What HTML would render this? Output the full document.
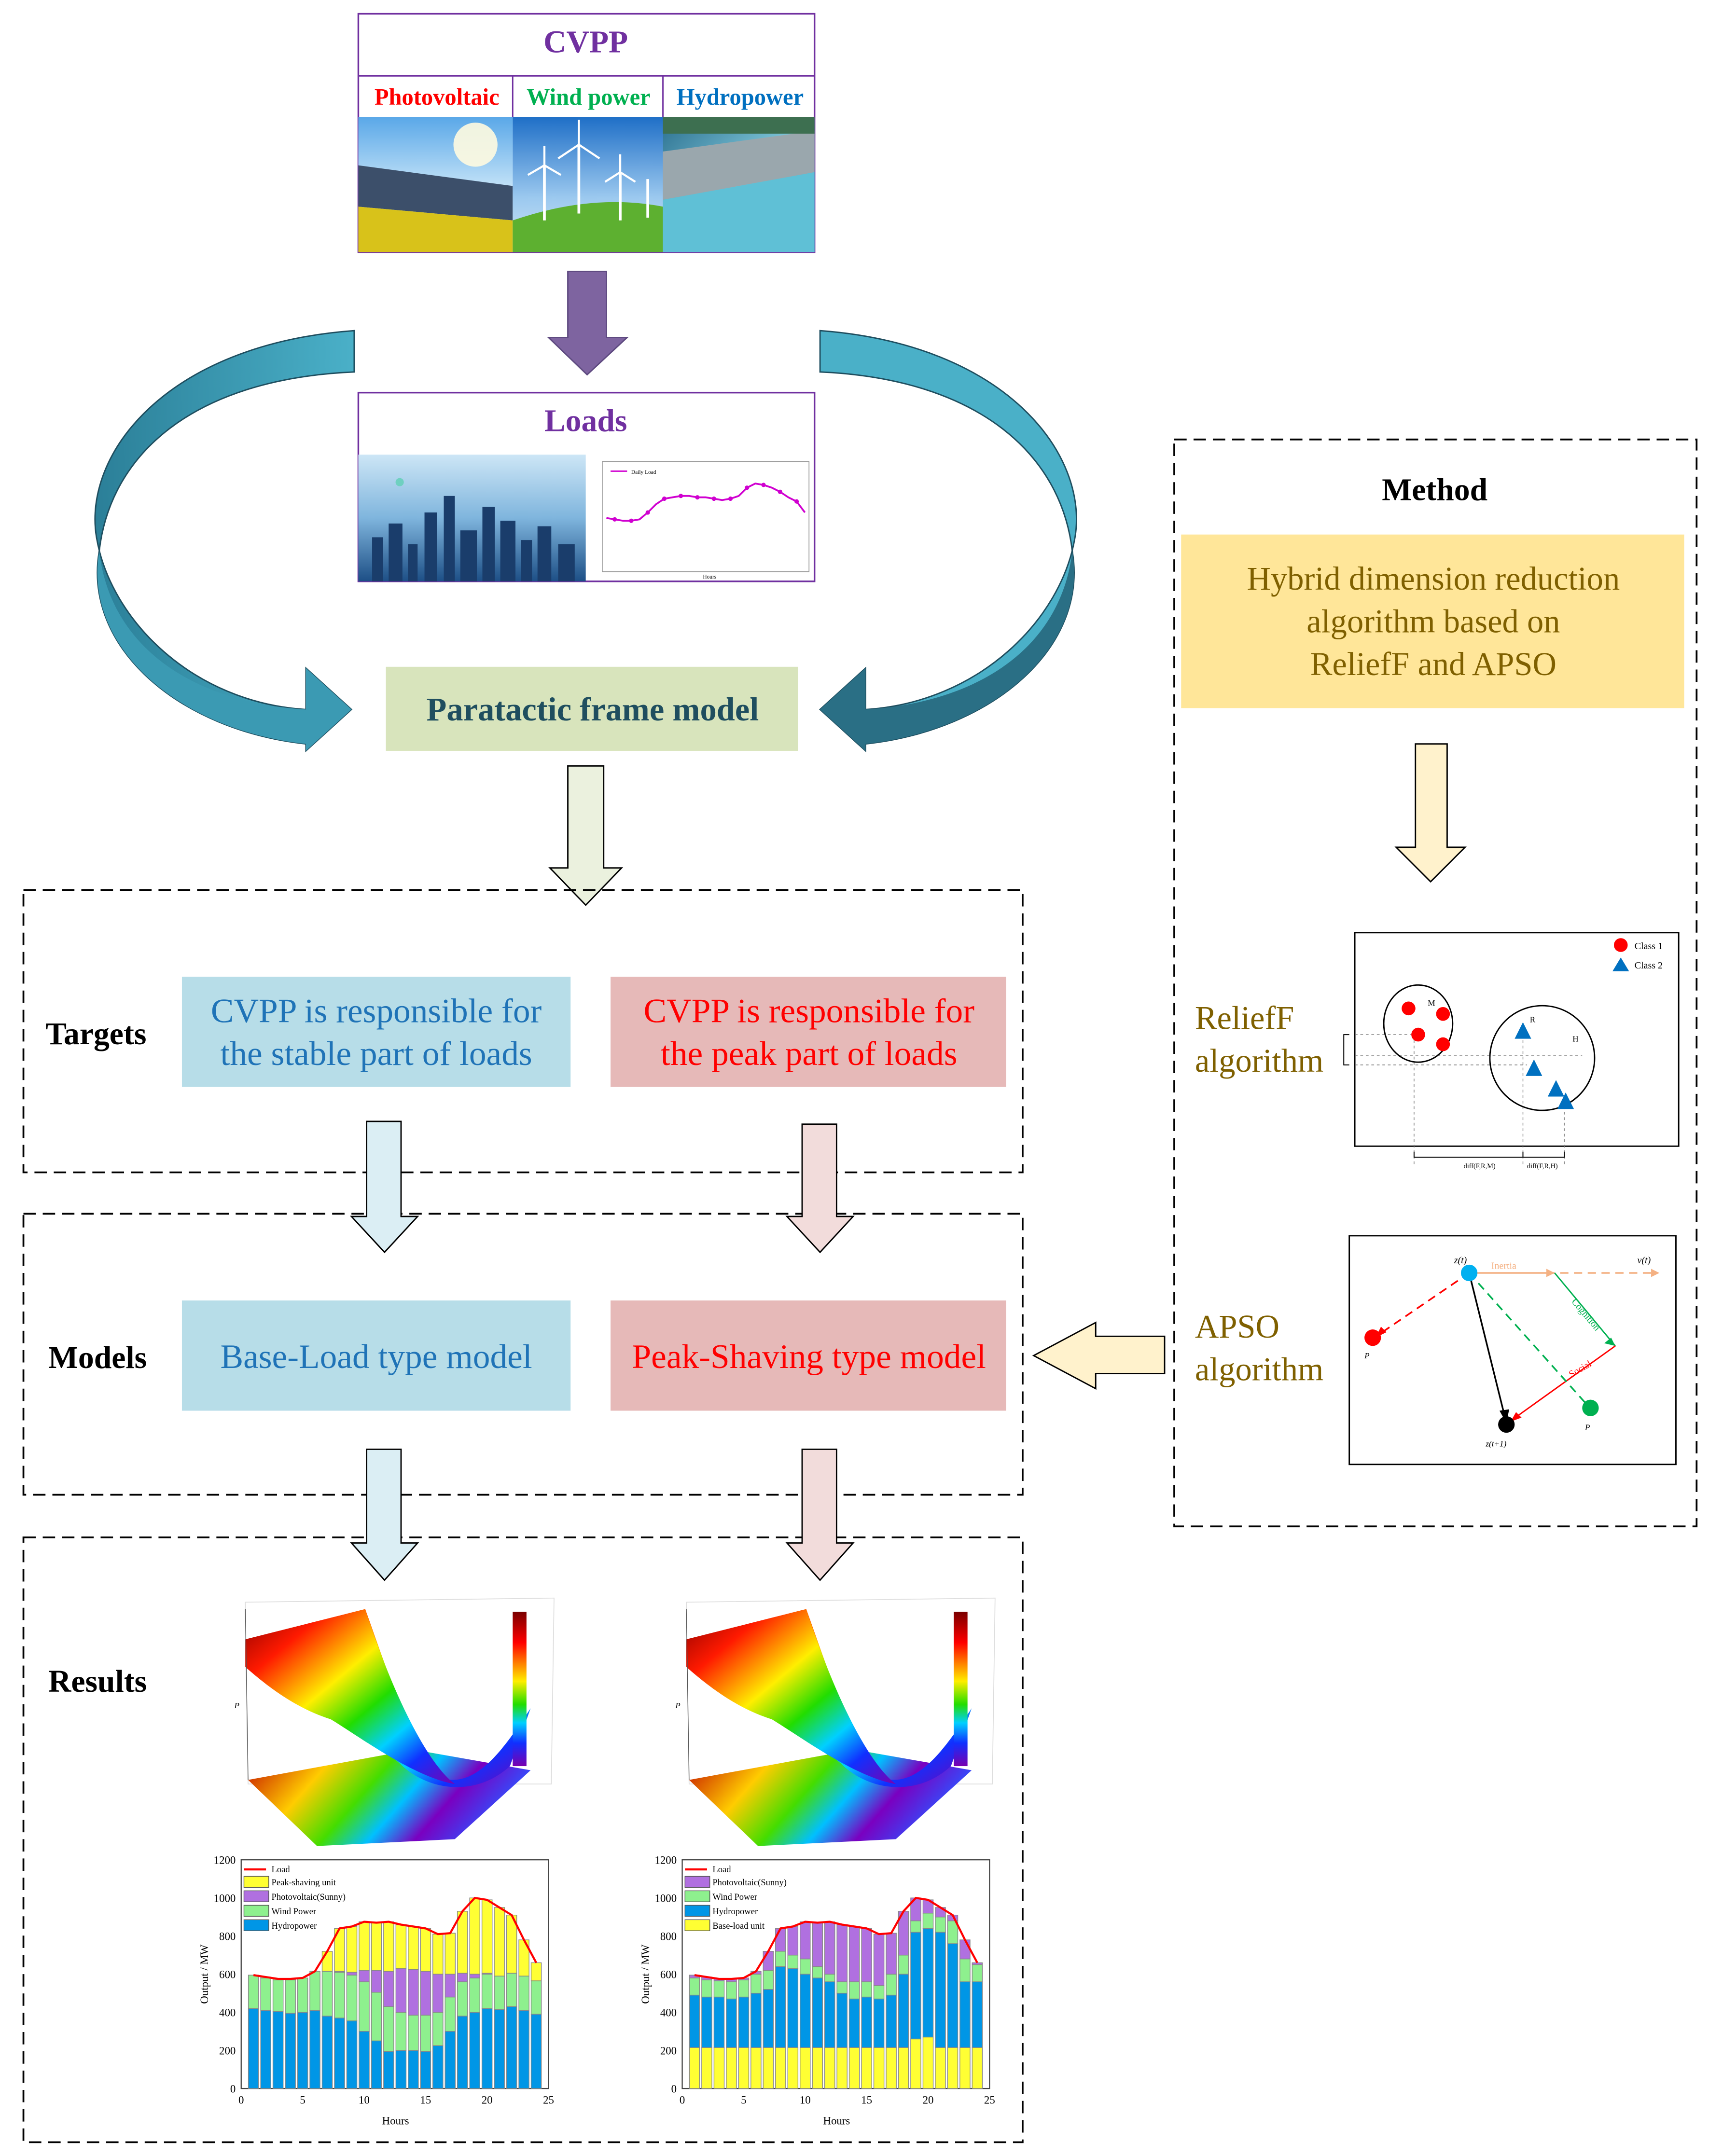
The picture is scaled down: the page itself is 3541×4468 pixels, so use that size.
<!DOCTYPE html>
<html><head><meta charset="utf-8"><style>
html,body{margin:0;padding:0;background:#fff}
svg{display:block}
text{font-family:"Liberation Serif",serif}
</style></head><body>
<svg id="s" width="3541" height="4468" viewBox="0 0 1240 1565" preserveAspectRatio="none" xmlns="http://www.w3.org/2000/svg">
<defs>
<linearGradient id="sky" x1="0" y1="0" x2="0" y2="1"><stop offset="0" stop-color="#5aa8e8"/><stop offset="0.5" stop-color="#bfe0f7"/><stop offset="1" stop-color="#e8f4fb"/></linearGradient>
<linearGradient id="sky2" x1="0" y1="0" x2="0" y2="1"><stop offset="0" stop-color="#1f6fc7"/><stop offset="0.6" stop-color="#9cc9ef"/><stop offset="1" stop-color="#cfe6f5"/></linearGradient>
<linearGradient id="hyd" x1="0" y1="0" x2="1" y2="1"><stop offset="0" stop-color="#2a6f8f"/><stop offset="0.5" stop-color="#7fc6d9"/><stop offset="1" stop-color="#1b8fb0"/></linearGradient>
<linearGradient id="city" x1="0" y1="0" x2="0" y2="1"><stop offset="0" stop-color="#cde6f6"/><stop offset="0.5" stop-color="#7fb5dd"/><stop offset="1" stop-color="#1d4f86"/></linearGradient>
<linearGradient id="arrL" x1="0" y1="0" x2="1" y2="0"><stop offset="0" stop-color="#2b7f98"/><stop offset="1" stop-color="#4ab0c8"/></linearGradient>
<linearGradient id="rb" x1="0" y1="0" x2="1" y2="1"><stop offset="0" stop-color="#8b0000"/><stop offset="0.2" stop-color="#ff1a00"/><stop offset="0.42" stop-color="#ffee00"/><stop offset="0.58" stop-color="#22dd00"/><stop offset="0.72" stop-color="#00d0ff"/><stop offset="0.84" stop-color="#1030ff"/><stop offset="1" stop-color="#7a00b0"/></linearGradient>
<linearGradient id="cb" x1="0" y1="0" x2="0" y2="1"><stop offset="0" stop-color="#7a0000"/><stop offset="0.2" stop-color="#ff0000"/><stop offset="0.45" stop-color="#ffee00"/><stop offset="0.6" stop-color="#22dd00"/><stop offset="0.72" stop-color="#00d0ff"/><stop offset="0.85" stop-color="#1030ff"/><stop offset="1" stop-color="#7a00b0"/></linearGradient>
<linearGradient id="base" x1="0" y1="0" x2="1" y2="0.3"><stop offset="0" stop-color="#c00000"/><stop offset="0.3" stop-color="#ffcc00"/><stop offset="0.5" stop-color="#44dd00"/><stop offset="0.65" stop-color="#00c0ff"/><stop offset="0.8" stop-color="#7a00c0"/><stop offset="1" stop-color="#3050ff"/></linearGradient>
</defs>

<!-- CVPP box -->
<rect x="260" y="10" width="331" height="173" fill="#fff" stroke="#7030a0" stroke-width="1.2"/>
<line x1="260" y1="55" x2="591" y2="55" stroke="#7030a0" stroke-width="1.2"/>
<text x="425" y="38" font-size="23" font-weight="bold" fill="#7030a0" text-anchor="middle">CVPP</text>
<text x="317" y="76" font-size="17" font-weight="bold" fill="#ff0000" text-anchor="middle">Photovoltaic</text>
<text x="427" y="76" font-size="17" font-weight="bold" fill="#00b050" text-anchor="middle">Wind power</text>
<text x="537" y="76" font-size="17" font-weight="bold" fill="#0070c0" text-anchor="middle">Hydropower</text>
<line x1="372" y1="55" x2="372" y2="85" stroke="#7030a0"/><line x1="481" y1="55" x2="481" y2="85" stroke="#7030a0"/>
<!-- PV image -->
<rect x="260" y="85" width="112" height="98" fill="url(#sky)"/>
<circle cx="345" cy="105" r="16" fill="#fffbe0" opacity="0.9"/>
<polygon points="260,120 372,135 372,160 260,150" fill="#3c4f6a"/>
<polygon points="260,150 372,160 372,183 260,183" fill="#d8c21a"/>
<!-- wind -->
<rect x="372" y="85" width="109" height="98" fill="url(#sky2)"/>
<path d="M372,160 Q430,140 481,150 L481,183 L372,183Z" fill="#5db030"/>
<g stroke="#fff" stroke-width="2"><line x1="395" y1="160" x2="395" y2="120"/><line x1="420" y1="155" x2="420" y2="105"/><line x1="450" y1="160" x2="450" y2="125"/><line x1="470" y1="158" x2="470" y2="130"/></g>
<g stroke="#fff" stroke-width="1.5"><path d="M420,105 l0,-18 M420,105 l15,10 M420,105 l-15,10"/><path d="M395,120 l0,-14 M395,120 l12,7 M395,120 l-12,7"/><path d="M450,125 l0,-13 M450,125 l11,7 M450,125 l-11,7"/></g>
<!-- hydro -->
<rect x="481" y="85" width="110" height="98" fill="url(#hyd)"/>
<polygon points="481,110 591,95 591,125 481,145" fill="#9aa7ad"/>
<polygon points="481,145 591,125 591,183 481,183" fill="#5fc0d6"/>
<rect x="481" y="85" width="110" height="12" fill="#3d6f50"/>

<!-- purple arrow -->
<polygon points="412,197 440,197 440,245 455,245 426,272 398,245 412,245" fill="#7e64a0" stroke="#5e4a80"/>

<!-- Loads box -->
<rect x="260" y="285" width="331" height="137" fill="#fff" stroke="#7030a0" stroke-width="1.2"/>
<text x="425" y="313" font-size="23" font-weight="bold" fill="#7030a0" text-anchor="middle">Loads</text>
<rect x="260" y="330" width="165" height="92" fill="url(#city)"/>
<g fill="#1a3d6b">
<rect x="270" y="390" width="8" height="32"/><rect x="282" y="380" width="10" height="42"/><rect x="296" y="395" width="7" height="27"/><rect x="308" y="372" width="9" height="50"/><rect x="322" y="360" width="8" height="62"/><rect x="334" y="385" width="12" height="37"/><rect x="350" y="368" width="9" height="54"/><rect x="363" y="378" width="11" height="44"/><rect x="378" y="392" width="8" height="30"/><rect x="390" y="382" width="10" height="40"/><rect x="405" y="395" width="12" height="27"/>
</g>
<circle cx="290" cy="350" r="3" fill="#6fd0c0"/>
<rect x="437" y="335" width="150" height="80" fill="#fff" stroke="#999" stroke-width="0.6"/>
<polyline points="440,376 446,377 452,378 458,378 464,377 470,372 476,366 482,362 488,361 494,360 500,360 506,361 512,361 518,362 524,363 530,362 536,360 542,354 548,351 554,352 560,354 566,357 572,361 578,364 584,372" fill="none" stroke="#d000d0" stroke-width="1.3"/>
<g fill="#d000d0"><circle cx="446" cy="377" r="1.6"/><circle cx="458" cy="378" r="1.6"/><circle cx="470" cy="372" r="1.6"/><circle cx="482" cy="362" r="1.6"/><circle cx="494" cy="360" r="1.6"/><circle cx="506" cy="361" r="1.6"/><circle cx="518" cy="362" r="1.6"/><circle cx="530" cy="362" r="1.6"/><circle cx="542" cy="354" r="1.6"/><circle cx="554" cy="352" r="1.6"/><circle cx="566" cy="357" r="1.6"/><circle cx="578" cy="364" r="1.6"/></g>
<line x1="443" y1="342" x2="455" y2="342" stroke="#d000d0"/><text x="458" y="344" font-size="4">Daily Load</text>
<text x="510" y="420" font-size="4">Hours</text>

<!-- curved arrows -->
<path d="M257,240 C120,250 60,330 70,390 C80,450 140,510 222,515 L222,485 L255,515 L222,545 L222,540 C130,530 60,470 72,400 C80,330 140,275 257,270 Z" fill="url(#arrL)" stroke="#1f4e5f" stroke-width="1"/>
<path d="M595,240 C730,250 790,330 780,390 C770,450 710,510 628,515 L628,485 L595,515 L628,545 L628,540 C720,530 790,470 778,400 C770,330 710,275 595,270 Z" fill="#4ab0c8" stroke="#1f4e5f" stroke-width="1"/>
<path d="M628,485 L595,515 L628,545 L628,540 C720,530 790,470 778,400 C770,470 710,510 628,515Z" fill="#2a6f85"/>
<path d="M222,485 L255,515 L222,545 L222,540 C130,530 60,470 72,400 C80,470 140,510 222,515Z" fill="#3b9ab3"/>

<!-- Paratactic -->
<rect x="280" y="484" width="299" height="61" fill="#d8e4bc"/>
<text x="430" y="523" font-size="24" font-weight="bold" fill="#1f4e5f" text-anchor="middle">Paratactic frame model</text>
<polygon points="412,556 438,556 438,630 451,630 425,657 399,630 412,630" fill="#ebf1de" stroke="#000"/>

<!-- dashed boxes -->
<g fill="none" stroke="#000" stroke-width="1.3" stroke-dasharray="9,5">
<rect x="17" y="646" width="725" height="205"/>
<rect x="17" y="881" width="725" height="204"/>
<rect x="17" y="1116" width="725" height="439"/>
<rect x="852" y="319" width="379" height="789"/>
</g>

<!-- Targets -->
<text x="33" y="758" font-size="23" font-weight="bold">Targets</text>
<rect x="132" y="709" width="282" height="80" fill="#b7dde8"/>
<text x="273" y="742" font-size="25" fill="#1f73b7" text-anchor="middle">CVPP is responsible for</text>
<text x="273" y="773" font-size="25" fill="#1f73b7" text-anchor="middle">the stable part of loads</text>
<rect x="443" y="709" width="287" height="80" fill="#e6b9b8"/>
<text x="587" y="742" font-size="25" fill="#ff0000" text-anchor="middle">CVPP is responsible for</text>
<text x="587" y="773" font-size="25" fill="#ff0000" text-anchor="middle">the peak part of loads</text>
<polygon points="266,814 291,814 291,883 303,883 279,909 255,883 266,883" fill="#dbeef4" stroke="#000"/>
<polygon points="582,816 607,816 607,883 619,883 595,909 571,883 582,883" fill="#f2dcdb" stroke="#000"/>

<!-- Models -->
<text x="35" y="993" font-size="23" font-weight="bold">Models</text>
<rect x="132" y="944" width="282" height="80" fill="#b7dde8"/>
<text x="273" y="993" font-size="25" fill="#1f73b7" text-anchor="middle">Base-Load type model</text>
<rect x="443" y="944" width="287" height="80" fill="#e6b9b8"/>
<text x="587" y="993" font-size="25" fill="#ff0000" text-anchor="middle">Peak-Shaving type model</text>
<polygon points="266,1052 291,1052 291,1120 303,1120 279,1147 255,1120 266,1120" fill="#dbeef4" stroke="#000"/>
<polygon points="582,1052 607,1052 607,1120 619,1120 595,1147 571,1120 582,1120" fill="#f2dcdb" stroke="#000"/>

<!-- Results -->
<text x="35" y="1228" font-size="23" font-weight="bold">Results</text>
<g id="p3d1">
<path d="M178,1163 L402,1160 L400,1295 L180,1295Z" fill="none" stroke="#ddd" stroke-width="0.6"/>
<polygon points="180,1292 300,1270 385,1285 330,1335 230,1340" fill="url(#base)"/>
<path d="M178,1190 L265,1168 C280,1210 300,1270 318,1290 C345,1300 365,1270 385,1240 L370,1282 C345,1305 310,1300 290,1280 C260,1255 230,1240 178,1210Z" fill="url(#rb)"/>
<path d="M178,1190 L265,1168 C285,1230 310,1280 330,1295 C300,1290 260,1260 240,1248 C215,1240 195,1225 178,1210Z" fill="url(#rb)"/>
<line x1="178" y1="1168" x2="180" y2="1292" stroke="#555" stroke-width="0.5"/>
<text x="170" y="1240" font-size="6" font-style="italic">P</text>
<rect x="372" y="1170" width="10" height="112" fill="url(#cb)"/>
</g>
<use href="#p3d1" transform="translate(320,0)"/>

<g id="bars1" font-size="8"></g>
<g id="bars2" font-size="8"></g>

<!-- Method -->
<text x="1041" y="363" font-size="23" font-weight="bold" text-anchor="middle">Method</text>
<rect x="857" y="388" width="365" height="126" fill="#ffe699"/>
<text x="1040" y="428" font-size="24" fill="#7f6000" text-anchor="middle">Hybrid dimension reduction</text>
<text x="1040" y="459" font-size="24" fill="#7f6000" text-anchor="middle">algorithm based on</text>
<text x="1040" y="490" font-size="24" fill="#7f6000" text-anchor="middle">ReliefF and APSO</text>
<polygon points="1027,540 1050,540 1050,615 1063,615 1038,640 1013,615 1027,615" fill="#fff2cc" stroke="#000"/>
<text x="867" y="747" font-size="24" fill="#7f6000">ReliefF</text>
<text x="867" y="778" font-size="24" fill="#7f6000">algorithm</text>
<text x="867" y="971" font-size="24" fill="#7f6000">APSO</text>
<text x="867" y="1002" font-size="24" fill="#7f6000">algorithm</text>

<!-- ReliefF chart -->
<rect x="983" y="677" width="235" height="155" fill="#fff" stroke="#000" stroke-width="1"/>
<g stroke="#777" stroke-width="0.5" stroke-dasharray="2,2" fill="none">
<line x1="983" y1="751" x2="1026" y2="751"/><line x1="983" y1="766" x2="1148" y2="766"/><line x1="983" y1="773" x2="1108" y2="773"/>
<line x1="1026" y1="751" x2="1026" y2="846"/><line x1="1105" y1="751" x2="1105" y2="846"/><line x1="1135" y1="799" x2="1135" y2="846"/>
</g>
<ellipse cx="1029" cy="743" rx="25" ry="28" fill="none" stroke="#000"/>
<ellipse cx="1119" cy="768" rx="38" ry="38" fill="none" stroke="#000"/>
<g fill="#f00"><circle cx="1022" cy="732" r="5"/><circle cx="1047" cy="736" r="5"/><circle cx="1029" cy="751" r="5"/><circle cx="1047" cy="758" r="5"/><circle cx="1176" cy="686" r="5"/></g>
<g fill="#0070c0"><polygon points="1105,742 1111,754 1099,754"/><polygon points="1136,793 1142,805 1130,805"/><polygon points="1113,769 1119,781 1107,781"/><polygon points="1129,784 1135,796 1123,796"/><polygon points="1176,695 1182,705 1170,705"/></g>
<text x="1186" y="689" font-size="7">Class 1</text><text x="1186" y="703" font-size="7">Class 2</text>
<text x="1036" y="730" font-size="6">M</text><text x="1110" y="742" font-size="6">R</text><text x="1141" y="756" font-size="6">H</text>
<path d="M1026,836 L1026,840 L1135,840 L1135,836 M1105,836 L1105,840" fill="none" stroke="#000" stroke-width="0.7"/>
<path d="M979,751 L975,751 L975,773 L979,773" fill="none" stroke="#000" stroke-width="0.7"/>
<text x="1062" y="848" font-size="5">diff(F,R,M)</text><text x="1108" y="848" font-size="5">diff(F,R,H)</text>

<!-- APSO chart -->
<rect x="979" y="897" width="237" height="166" fill="#fff" stroke="#000" stroke-width="1"/>
<line x1="1066" y1="924" x2="1122" y2="924" stroke="#f4b183" stroke-width="1.2"/>
<line x1="1122" y1="924" x2="1200" y2="924" stroke="#f4b183" stroke-width="1.2" stroke-dasharray="6,4"/>
<polygon points="1122,921 1128,924 1122,927" fill="#f4b183"/><polygon points="1198,921 1204,924 1198,927" fill="#f4b183"/>
<line x1="1128" y1="924" x2="1172" y2="977" stroke="#00b050" stroke-width="1"/><polygon points="1172,977 1164,975 1169,971" fill="#00b050"/>
<line x1="1172" y1="977" x2="1098" y2="1030" stroke="#ff0000" stroke-width="1"/><polygon points="1096,1032 1100,1025 1104,1029" fill="#f00"/>
<line x1="1066" y1="924" x2="1000" y2="969" stroke="#ff0000" stroke-width="1.2" stroke-dasharray="6,4"/><polygon points="998,971 1002,963 1006,967" fill="#f00"/>
<line x1="1066" y1="924" x2="1150" y2="1018" stroke="#00b050" stroke-width="1.2" stroke-dasharray="6,4"/>
<line x1="1066" y1="924" x2="1092" y2="1029" stroke="#000" stroke-width="1.2"/><polygon points="1093,1033 1088,1024 1095,1023" fill="#000"/>
<circle cx="996" cy="971" r="6" fill="#f00"/><circle cx="1154" cy="1022" r="6" fill="#00b050"/><circle cx="1093" cy="1034" r="6" fill="#000"/><circle cx="1066" cy="924" r="6" fill="#00b0f0"/>
<text x="1055" y="917" font-size="7" font-style="italic">z(t)</text><text x="1082" y="921" font-size="7" fill="#f4b183">Inertia</text>
<text x="1188" y="917" font-size="7" font-style="italic">v(t)</text>
<text x="1140" y="945" font-size="7" fill="#00b050" transform="rotate(50 1140 945)">Cognition</text>
<text x="1140" y="1000" font-size="7" fill="#f00" transform="rotate(-30 1140 1000)">Social</text>
<text x="990" y="986" font-size="6" font-style="italic">P</text><text x="1150" y="1038" font-size="6" font-style="italic">P</text>
<text x="1078" y="1050" font-size="6" font-style="italic">z(t+1)</text>

<!-- left arrow -->
<polygon points="845,970 845,997 795,997 795,1008 750,984 795,960 795,970" fill="#fff2cc" stroke="#000"/>
</svg>
<script>
var NS="http://www.w3.org/2000/svg";
function el(p,t,a,txt){var e=document.createElementNS(NS,t);for(var k in a)e.setAttribute(k,a[k]);if(txt)e.textContent=txt;p.appendChild(e);return e;}
function chart(id,ox,layers,colors,load,legend,legCols){
 var g=document.getElementById(id);
 var x0=ox,x1=ox+223,y0=1516,y1=1350,sy=(y0-y1)/1200,sx=223/25;
 el(g,"rect",{x:x0,y:y1,width:223,height:166,fill:"#fff",stroke:"#444","stroke-width":0.8});
 for(var h=1;h<=24;h++){var cx=x0+h*sx,prev=0;
  for(var L=0;L<layers.length;L++){var v=layers[L][h-1];
   el(g,"rect",{x:cx-3.7,y:y0-v*sy,width:7.4,height:(v-prev)*sy,fill:colors[L],stroke:"#888","stroke-width":0.5});prev=v;}}
 var pts=load.map(function(v,i){return (x0+(i+1)*sx)+","+(y0-v*sy)}).join(" ");
 el(g,"polyline",{points:pts,fill:"none",stroke:"#f00","stroke-width":1.5});
 for(var t=0;t<=1200;t+=200)el(g,"text",{x:x0-4,y:y0-t*sy+3,"text-anchor":"end"},String(t));
 for(var t=0;t<=25;t+=5)el(g,"text",{x:x0+t*sx,y:y0+11,"text-anchor":"middle"},String(t));
 el(g,"text",{x:x0+112,y:y0+26,"text-anchor":"middle","font-size":8},"Hours");
 el(g,"text",{x:x0-24,y:y1+83,"text-anchor":"middle",transform:"rotate(-90 "+(x0-24)+" "+(y1+83)+")"},"Output / MW");
 el(g,"line",{x1:x0+2,y1:y1+7,x2:x0+18,y2:y1+7,stroke:"#f00","stroke-width":1.5});
 el(g,"text",{x:x0+22,y:y1+9,"font-size":6.5},"Load");
 for(var i=0;i<legend.length;i++){el(g,"rect",{x:x0+2,y:y1+12+i*10.5,width:18,height:8,fill:legCols[i],stroke:"#555","stroke-width":0.5});
  el(g,"text",{x:x0+22,y:y1+18.5+i*10.5,"font-size":6.5},legend[i]);}
}
var load=[595,585,575,575,580,615,720,840,850,875,870,875,860,850,840,810,815,930,1000,990,950,910,780,660];
var hy1=[420,410,405,395,400,410,380,370,355,300,250,195,200,200,195,225,300,380,400,420,415,430,410,390];
var wi1=[595,580,570,570,580,615,615,610,595,560,505,430,400,385,385,400,480,560,580,600,590,605,590,565];
var pv1=[595,580,570,570,580,615,615,615,610,620,620,615,630,625,615,600,600,605,600,605,590,605,590,565];
chart("bars1",175,[hy1,wi1,pv1,load],["#0096e6","#8ef08e","#b070e0","#ffff33"],load,["Peak-shaving unit","Photovoltaic(Sunny)","Wind Power","Hydropower"],["#ffff33","#b070e0","#8ef08e","#0096e6"]);
var bs=[215,215,215,215,215,215,215,215,215,215,215,215,215,215,215,215,215,215,260,270,215,215,215,215];
var hy2=[490,480,480,470,480,500,520,640,630,600,580,560,500,470,480,470,490,600,820,840,820,760,560,560];
var wi2=[580,570,565,560,570,600,620,720,700,680,640,600,560,560,560,540,600,700,880,920,900,880,680,650];
chart("bars2",495,[bs,hy2,wi2,load],["#ffff33","#0096e6","#8ef08e","#b070e0"],load,["Photovoltaic(Sunny)","Wind Power","Hydropower","Base-load unit"],["#b070e0","#8ef08e","#0096e6","#ffff33"]);
</script>
</body></html>
